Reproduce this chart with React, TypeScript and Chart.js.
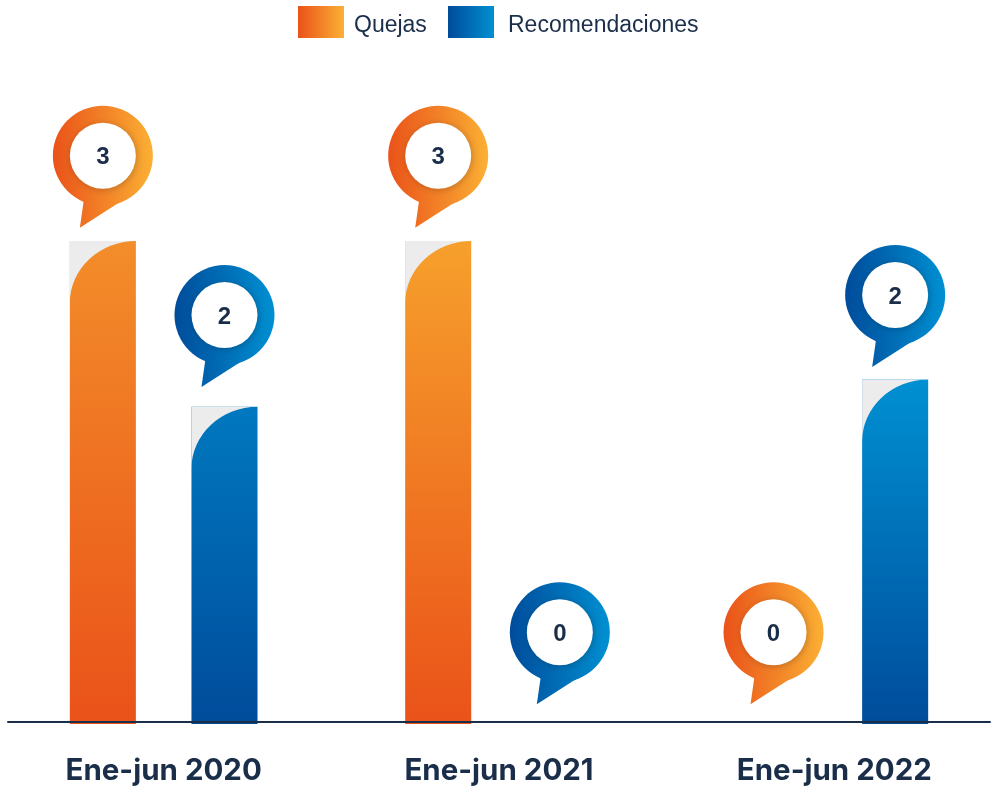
import React, { useEffect, useRef } from "react";
import { Chart, registerables } from "chart.js";

Chart.register(...registerables);

const categories = ["Ene-jun 2020", "Ene-jun 2021", "Ene-jun 2022"];
const seriesNames = ["Quejas", "Recomendaciones"];
// Bar heights as drawn in the picture, in axis units
const quejasBars = [3, 3, 0];
const recomendacionesBars = [1.97, 0, 2.14];
// Numbers printed in the bubbles
const quejasLabels = [3, 3, 0];
const recomendacionesLabels = [2, 0, 2];
// Height of each bubble's centre, in axis units
const quejasBubbles = [3.53, 3.53, 0.57];
const recomendacionesBubbles = [2.54, 0.57, 2.665];

const NAVY = "#1a2e4a";
const ORANGE = ["#ea5219", "#fbb034"];
const BLUE = ["#004c9b", "#0090d2"];
const barTops = [
  ["#f38d2a", "#f6a02c", "#f6a02c"],
  ["#0078bf", "#0090d2", "#0090d2"],
];
const barBottoms = ["#ea5219", "#004c9b"];
const CANVAS_SHIFT = 4;

function barFill(dsIndex: number) {
  return (c: any) => {
    const chart = c.chart;
    const y = chart.scales.y;
    if (!chart.chartArea || !y) return barBottoms[dsIndex];
    const v = c.raw ?? 0;
    const g = chart.ctx.createLinearGradient(0, y.getPixelForValue(v), 0, y.getPixelForValue(0));
    g.addColorStop(0, barTops[dsIndex][c.dataIndex]);
    g.addColorStop(1, barBottoms[dsIndex]);
    return g;
  };
}

function drawBubble(ctx: CanvasRenderingContext2D, cx: number, cy: number, colors: string[], label: string) {
  const R = 50;
  const g = ctx.createLinearGradient(cx - R, 0, cx + R, 0);
  g.addColorStop(0, colors[0]);
  g.addColorStop(1, colors[1]);
  ctx.save();
  ctx.fillStyle = g;
  ctx.beginPath();
  ctx.arc(cx, cy, R, 0, Math.PI * 2);
  ctx.fill();
  ctx.beginPath();
  ctx.moveTo(cx - 19, cy + 44);
  ctx.lineTo(cx - 23, cy + 72);
  ctx.lineTo(cx + 16, cy + 47);
  ctx.lineTo(cx + 30, cy + 30);
  ctx.closePath();
  ctx.fill();
  ctx.shadowColor = "rgba(0,0,0,0.22)";
  ctx.shadowBlur = 7;
  ctx.shadowOffsetX = 1;
  ctx.shadowOffsetY = 1;
  ctx.fillStyle = "#ffffff";
  ctx.beginPath();
  ctx.arc(cx, cy, 33, 0, Math.PI * 2);
  ctx.fill();
  ctx.shadowColor = "transparent";
  ctx.fillStyle = NAVY;
  ctx.font = "bold 24px 'Liberation Sans'";
  ctx.textAlign = "center";
  ctx.textBaseline = "middle";
  ctx.fillText(label, cx, cy + 2);
  ctx.restore();
}

const decorations = {
  id: "decorations",
  afterDatasetsDraw(chart: any) {
    const { ctx, scales } = chart;
    const y = scales.y;
    const sets = [
      { bubbles: quejasBubbles, labels: quejasLabels, colors: ORANGE },
      { bubbles: recomendacionesBubbles, labels: recomendacionesLabels, colors: BLUE },
    ];
    sets.forEach((set, d) => {
      const meta = chart.getDatasetMeta(d);
      meta.data.forEach((bar: any) => {
        const h = bar.base - bar.y;
        if (h > 1) {
          const left = bar.x - bar.width / 2;
          const right = bar.x + bar.width / 2;
          ctx.save();
          ctx.fillStyle = "#ececec";
          ctx.beginPath();
          ctx.moveTo(left, bar.y);
          ctx.lineTo(right, bar.y);
          ctx.ellipse(right, bar.y + 62, bar.width, 62, 0, -Math.PI / 2, Math.PI, true);
          ctx.closePath();
          ctx.fill();
          ctx.restore();
        }
      });
    });
    const axisY = y.getPixelForValue(0) - 2;
    ctx.save();
    ctx.strokeStyle = NAVY;
    ctx.lineWidth = 2;
    ctx.lineCap = "round";
    ctx.beginPath();
    ctx.moveTo(8 + CANVAS_SHIFT, axisY);
    ctx.lineTo(990 + CANVAS_SHIFT, axisY);
    ctx.stroke();
    ctx.restore();
    sets.forEach((set, d) => {
      const meta = chart.getDatasetMeta(d);
      meta.data.forEach((bar: any, i: number) => {
        drawBubble(ctx, bar.x, y.getPixelForValue(set.bubbles[i]), set.colors, String(set.labels[i]));
      });
    });
    // legend
    const legendItems = [
      { boxX: 298, textX: 354, colors: ORANGE },
      { boxX: 448, textX: 508, colors: BLUE },
    ];
    legendItems.forEach((item, d) => {
      const x0 = item.boxX + CANVAS_SHIFT;
      const g = ctx.createLinearGradient(x0, 0, x0 + 46, 0);
      g.addColorStop(0, item.colors[0]);
      g.addColorStop(1, item.colors[1]);
      ctx.save();
      ctx.fillStyle = g;
      ctx.fillRect(x0, 6, 46, 32);
      ctx.fillStyle = NAVY;
      ctx.font = "23px 'Liberation Sans'";
      ctx.textAlign = "left";
      ctx.textBaseline = "middle";
      ctx.fillText(chart.data.datasets[d].label, item.textX + CANVAS_SHIFT, 25.5);
      ctx.restore();
    });
  },
};

export default function App() {
  const ref = useRef<HTMLCanvasElement>(null);
  useEffect(() => {
    const canvas = ref.current!;
    const chart = new Chart(canvas, {
      type: "bar",
      data: {
        labels: categories,
        datasets: [
          { label: seriesNames[0], data: quejasBars, backgroundColor: barFill(0) },
          { label: seriesNames[1], data: recomendacionesBars, backgroundColor: barFill(1) },
        ],
      },
      plugins: [decorations],
      options: {
        responsive: false,
        animation: false,
        events: [],
        categoryPercentage: 0.7254,
        barPercentage: 0.543,
        plugins: {
          tooltip: { enabled: false },
          legend: { display: false },
        },
        scales: {
          x: {
            grid: { display: false },
            border: { display: false },
            afterFit: (s: any) => {
              s.height = 68;
            },
            ticks: {
              maxRotation: 0,
              color: NAVY,
              padding: 21,
              font: { family: "Inter", weight: "bold", size: 29.5 },
            },
          },
          y: { display: false, min: 0, max: 4.497 },
        },
      },
    } as any);
    return () => chart.destroy();
  }, []);
  return (
    <div style={{ position: "absolute", left: 0, top: 0, width: 997, height: 792, overflow: "hidden", background: "#fff" }}>
      <canvas ref={ref} width={1006} height={792} style={{ display: "block", position: "absolute", left: -CANVAS_SHIFT, top: 0 }} />
    </div>
  );
}
